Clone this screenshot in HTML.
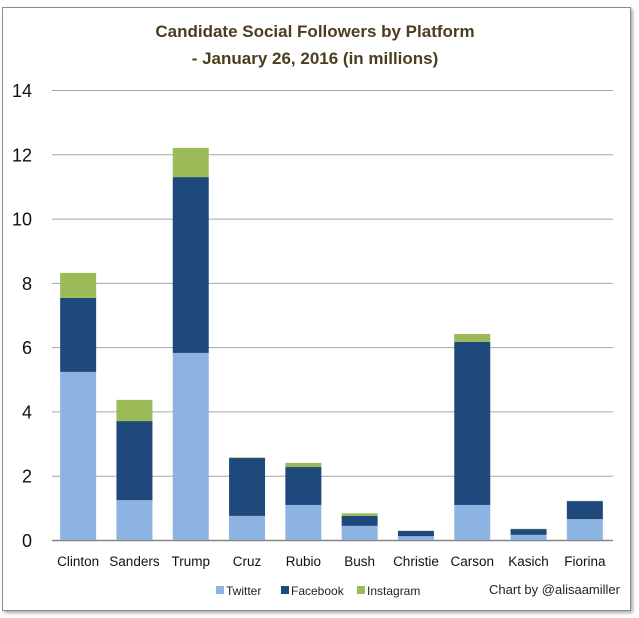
<!DOCTYPE html>
<html><head><meta charset="utf-8"><style>
html,body{margin:0;padding:0;background:#fff;}
svg{display:block;font-family:"Liberation Sans",sans-serif;}
</style></head><body>
<svg id="chart" width="639" height="618">
<defs><filter id="sh" x="-5%" y="-5%" width="110%" height="110%"><feDropShadow dx="2" dy="2" stdDeviation="1.5" flood-color="#888" flood-opacity="0.7"/></filter></defs>
<rect x="2.5" y="7.5" width="628" height="603" fill="#fff" stroke="#8c8c8c" filter="url(#sh)"/>
<text x="315" y="37" text-anchor="middle" font-size="17" font-weight="bold" fill="#4b3e1e">Candidate Social Followers by Platform</text>
<text x="315" y="64" text-anchor="middle" font-size="17" font-weight="bold" fill="#4b3e1e">- January 26, 2016 (in millions)</text>
<g id="grid"></g><g id="bars"></g><g id="xl"></g>
<g font-size="12" fill="#222">
<rect x="216" y="586" width="8" height="8" fill="#8db3e2"/>
<text x="226" y="595">Twitter</text>
<rect x="281" y="586" width="8" height="8" fill="#1f497d"/>
<text x="291" y="595">Facebook</text>
<rect x="357" y="586" width="8" height="8" fill="#9bbb59"/>
<text x="367" y="595">Instagram</text>
</g>
<text x="620" y="594" text-anchor="end" font-size="13" fill="#222">Chart by @alisaamiller</text>
</svg>
<script>
const categories=["Clinton","Sanders","Trump","Cruz","Rubio","Bush","Christie","Carson","Kasich","Fiorina"];
const twitter=[5.23,1.24,5.82,0.75,1.09,0.44,0.12,1.09,0.16,0.65];
const facebook=[2.30,2.46,5.47,1.80,1.18,0.31,0.16,5.07,0.18,0.56];
const instagram=[0.78,0.66,0.91,0.02,0.13,0.08,0.01,0.25,0.01,0.01];
const ticks=[0,2,4,6,8,10,12,14];
const NS="http://www.w3.org/2000/svg";
const x0=50,x1=613,yb=540,yt=90,ymax=14;
const y=v=>yb-(v/ymax)*(yb-yt);
const bw=(x1-x0)/categories.length;
const cx=i=>x0+bw*(i+0.5);
function mk(t,a,p){const e=document.createElementNS(NS,t);for(const k in a)e.setAttribute(k,a[k]);p.appendChild(e);return e;}
const grid=document.getElementById('grid');
ticks.forEach(t=>{
 const l=mk('line',{x1:x0+2,x2:x1,y1:y(t)+0.5,y2:y(t)+0.5,stroke:t===0?'#868686':'#a6a6a6','stroke-width':t===0?1.5:1},grid);
 
 
 const tx=mk('text',{x:32,y:y(t)+7,'text-anchor':'end','font-size':18,fill:'#111'},grid);
 tx.textContent=t;
 
 
});
const bars=document.getElementById('bars'),xl=document.getElementById('xl');
const series=[[twitter,'#8db3e2','twitter'],[facebook,'#1f497d','facebook'],[instagram,'#9bbb59','instagram']];
categories.forEach((c,i)=>{
 let base=0;
 series.forEach(([arr,col,nm])=>{
  const v=arr[i];
  const r=mk('rect',{x:cx(i)-18,width:36,y:y(base+v),height:y(base)-y(base+v),fill:col},bars);
  
  
  base+=v;
 });
 const t=mk('text',{x:cx(i),y:566,'text-anchor':'middle','font-size':13.5,fill:'#111'},xl);
 t.textContent=c;
 
 
});
</script>
</body></html>
